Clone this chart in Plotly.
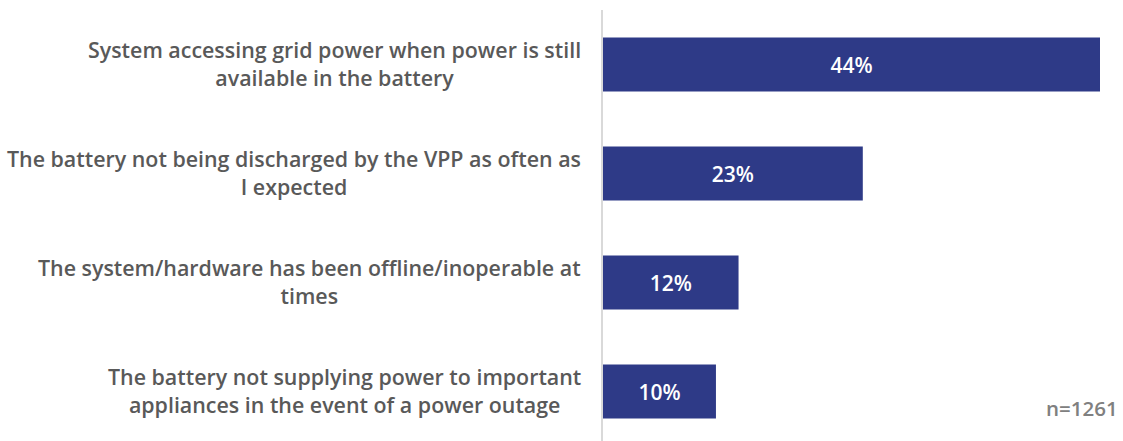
import plotly.graph_objects as go

categories = [
    "System accessing grid power when power is still<br>available in the battery",
    "The battery not being discharged by the VPP as often as<br>I expected",
    "The system/hardware has been offline/inoperable at<br>times",
    "The battery not supplying power to important<br>appliances in the event of a power outage",
]
values = [44, 23, 12, 10]
value_labels = ["44%", "23%", "12%", "10%"]
sample_note = "n=1261"

BAR = "#2E3A87"
LABEL = "#595959"

fig = go.Figure(go.Bar(
    x=values,
    y=categories,
    orientation="h",
    marker=dict(color=BAR, line=dict(width=0)),
    text=value_labels,
    textposition="inside",
    insidetextanchor="middle",
    textfont=dict(family="Open Sans", size=21, color="white", weight=600),
    hoverinfo="skip",
))

for c in categories:
    fig.add_annotation(
        x=0, y=c, xref="x", yref="y",
        text=c, showarrow=False,
        xanchor="right", yanchor="middle", align="center",
        xshift=-20, yshift=1,
        font=dict(family="Open Sans", size=21.4, color=LABEL, weight=600),
    )

fig.add_annotation(
    x=1, y=0.0766, xref="paper", yref="paper",
    text=sample_note, showarrow=False,
    xanchor="right", yanchor="middle", xshift=20,
    font=dict(family="Open Sans", size=20.5, color="#808080", weight=600),
)

fig.update_layout(
    width=1123, height=441,
    margin=dict(l=603, r=23, t=10, b=0),
    paper_bgcolor="white", plot_bgcolor="white",
    bargap=0.505,
    showlegend=False,
    xaxis=dict(range=[0, 44], visible=False, fixedrange=True),
    yaxis=dict(
        type="category",
        range=[3.454, -0.5],
        showticklabels=False,
        showgrid=False, zeroline=False,
        showline=True, linecolor="#D9D9D9", linewidth=2,
        ticks="", fixedrange=True,
    ),
    uniformtext=dict(minsize=10, mode="show"),
)

fig.write_html(
    "out.html",
    config={"displayModeBar": False},
    post_script="document.body.style.margin='0';document.body.style.overflow='hidden';",
)
